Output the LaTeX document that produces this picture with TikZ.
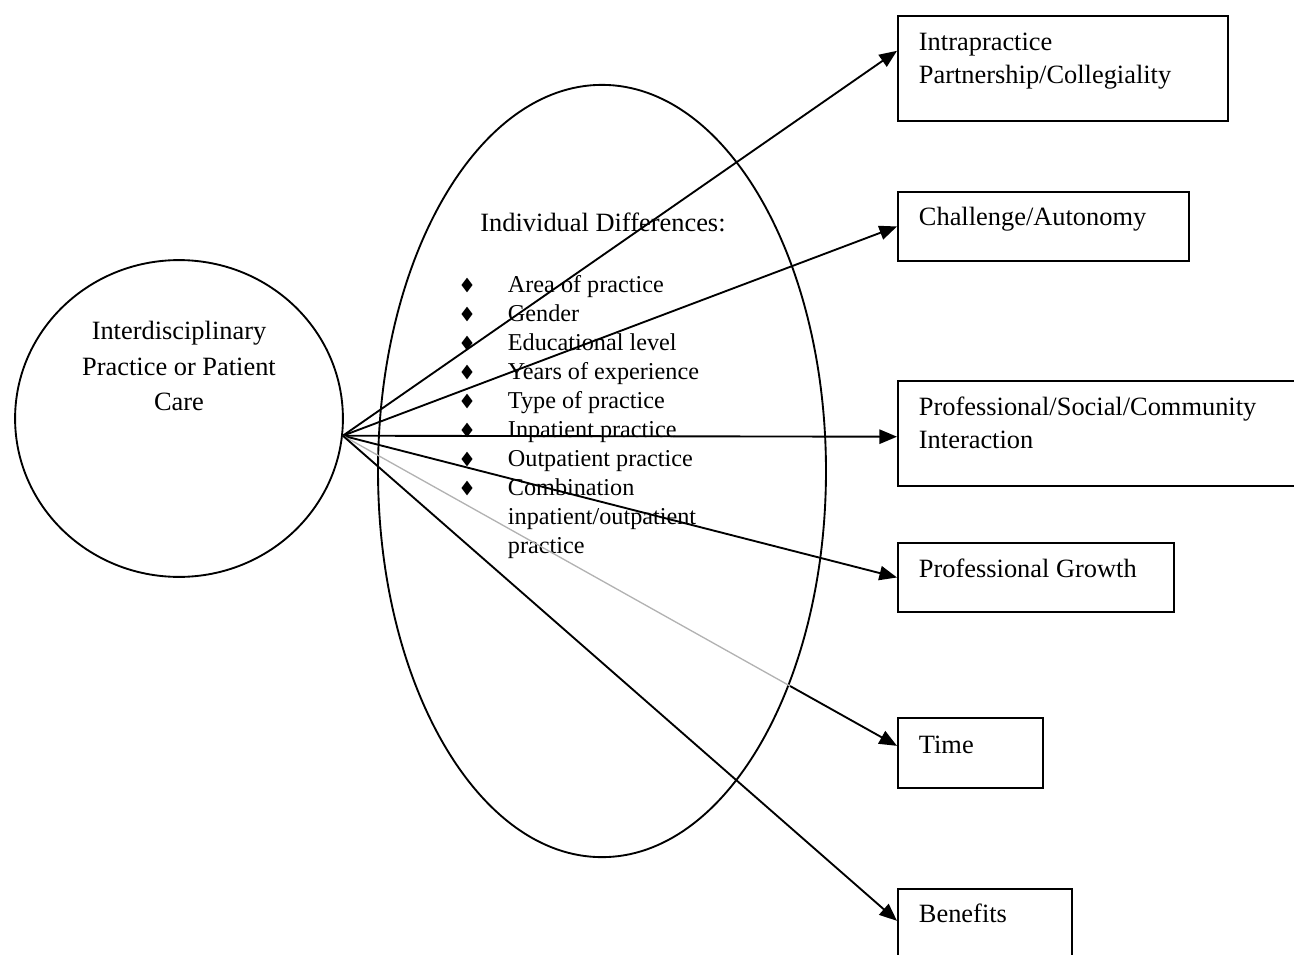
\documentclass[tikz,border=0pt]{standalone}
\usepackage{fontspec}
\setmainfont{Liberation Serif}
\usetikzlibrary{arrows.meta,calc,shapes.geometric,positioning}

\tikzset{
  outbox/.style={draw,rectangle,inner sep=0pt,anchor=north west},
  oval/.style={draw,ellipse,inner sep=0pt},
  txt/.style={black,anchor=base west,inner sep=0pt,font=\fontsize{12}{14}\selectfont},
  ctxt/.style={black,anchor=base,inner sep=0pt,font=\fontsize{12}{14}\selectfont},
  itm/.style={black,anchor=base west,inner sep=0pt,font=\fontsize{11}{13}\selectfont},
  dia/.style={diamond,fill=black,inner sep=0pt,minimum width=5.4pt,minimum height=7pt},
  arr/.style={-{Triangle[length=8pt,width=6.5pt]}}
}

\begin{document}
\begin{tikzpicture}[x=0.4545pt,y=-0.4545pt,line width=0.85pt]
        \useasboundingbox (0,0) rectangle (1294,954);
        \clip (0,0) rectangle (1294,954);

        % left circle
        \node [oval,minimum width=149pt,minimum height=144pt] (care) at (179,418.5) {};
        \node [ctxt] (care1) at (179,339) {Interdisciplinary};
        \node [ctxt] (care2) at (179,375) {Practice or Patient};
        \node [ctxt] (care3) at (179,410) {Care};
        \coordinate (hub) at (care.-6);

        % big ellipse
        \node [oval,minimum width=203.6pt,minimum height=351pt] (diff) at (602,471) {};
        \node [ctxt] (difftitle) at (603,231) {Individual Differences:};

        \node [dia] (d1) at (467,285) {};
        \node [dia] (d2) at (467,314) {};
        \node [dia] (d3) at (467,343) {};
        \node [dia] (d4) at (467,372) {};
        \node [dia] (d5) at (467,401) {};
        \node [dia] (d6) at (467,430) {};
        \node [dia] (d7) at (467,459) {};
        \node [dia] (d8) at (467,488) {};
        \node [itm] (i1) at (507,292) {Area of practice};
        \node [itm] (i2) at (507,321) {Gender};
        \node [itm] (i3) at (507,350) {Educational level};
        \node [itm] (i4) at (507,379) {Years of experience};
        \node [itm] (i5) at (507,408) {Type of practice};
        \node [itm] (i6) at (507,437) {Inpatient practice};
        \node [itm] (i7) at (507,466) {Outpatient practice};
        \node [itm] (i8) at (507,495) {Combination};
        \node [itm] (i9) at (507,524) {inpatient/outpatient};
        \node [itm] (i10) at (507,553) {practice};

        % outcome boxes
        \node [outbox,minimum width=150pt,minimum height=47.7pt] (intra) at (897,15) {};
        \node [txt] (intra1) at (918,50.5) {Intrapractice};
        \node [txt] (intra2) at (918,83.5) {Partnership/Collegiality};

        \node [outbox,minimum width=132.3pt,minimum height=31.4pt] (chal) at (897,191) {};
        \node [txt] (chal1) at (918,225) {Challenge/Autonomy};

        \node [outbox,minimum width=190pt,minimum height=47.7pt] (prof) at (897,380) {};
        \node [txt] (prof1) at (918,415) {Professional/Social/Community};
        \node [txt] (prof2) at (918,448) {Interaction};

        \node [outbox,minimum width=125.5pt,minimum height=31.4pt] (grow) at (897,542) {};
        \node [txt] (grow1) at (918,577) {Professional Growth};

        \node [outbox,minimum width=65.9pt,minimum height=31.8pt] (time) at (897,717) {};
        \node [txt] (time1) at (918,753) {Time};

        \node [outbox,minimum width=79.1pt,minimum height=31.8pt] (bene) at (897,888) {};
        \node [txt] (bene1) at (918,922) {Benefits};

        % connectors
        \draw [arr] (hub) -- ([yshift=8pt]intra.west);
        \draw [arr] (hub) -- (chal.west);
        \draw [arr] (hub) -- ([yshift=-1.5pt]prof.west);
        \draw [arr] (hub) -- (grow.west);
        \coordinate (tend) at ([yshift=3.2pt]time.west);
        \coordinate (tcut) at ($(hub)!0.807!(tend)$);
        \draw [gray!60,line width=0.6pt] (hub) -- (tcut);
        \draw [arr] (tcut) -- (tend);
        \draw [arr] (hub) -- ([yshift=1.4pt]bene.west);
\end{tikzpicture}
\end{document}
